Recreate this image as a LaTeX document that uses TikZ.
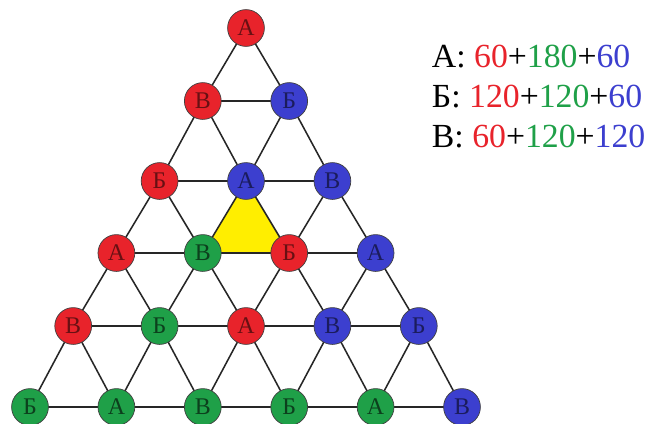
\documentclass[tikz,border=0pt]{standalone}
\usepackage{fontspec}
\setmainfont{Liberation Serif}
\usepackage{xcolor}
\usetikzlibrary{backgrounds}

\definecolor{cred}{HTML}{E8232B}
\definecolor{cblue}{HTML}{3C3FCF}
\definecolor{cgreen}{HTML}{1FA048}
\definecolor{cyellow}{HTML}{FFEE00}

\begin{document}
\begin{tikzpicture}[x=0.025cm,y=-0.025cm,
  dot/.style={circle,draw=black!75,line width=0.5pt,minimum size=0.92cm,inner sep=0pt,
              font=\fontsize{17}{17}\selectfont},
  rdot/.style={dot,fill=cred,text=cred!45!black},
  bdot/.style={dot,fill=cblue,text=cblue!45!black},
  gdot/.style={dot,fill=cgreen,text=cgreen!40!black},
  edge/.style={black!85,line width=1.1pt},
  sum/.style={anchor=base west,font=\fontsize{24}{24}\selectfont}]
  \useasboundingbox (0,0) rectangle (655,423);
  % row 0
  \node[rdot] (n00) at (246,28) {А};
  % row 1
  \node[rdot] (n10) at (202.8,101) {В};
  \node[bdot] (n11) at (289.2,101) {Б};
  % row 2
  \node[rdot] (n20) at (159.6,181) {Б};
  \node[bdot] (n21) at (246,181) {А};
  \node[bdot] (n22) at (332.4,181) {В};
  % row 3
  \node[rdot] (n30) at (116.4,253) {А};
  \node[gdot] (n31) at (202.8,253) {В};
  \node[rdot] (n32) at (289.2,253) {Б};
  \node[bdot] (n33) at (375.6,253) {А};
  % row 4
  \node[rdot] (n40) at (73.2,326) {В};
  \node[gdot] (n41) at (159.6,326) {Б};
  \node[rdot] (n42) at (246,326) {А};
  \node[bdot] (n43) at (332.4,326) {В};
  \node[bdot] (n44) at (418.8,326) {Б};
  % row 5
  \node[gdot] (n50) at (30,407) {Б};
  \node[gdot] (n51) at (116.4,407) {А};
  \node[gdot] (n52) at (202.8,407) {В};
  \node[gdot] (n53) at (289.2,407) {Б};
  \node[gdot] (n54) at (375.6,407) {А};
  \node[bdot] (n55) at (462,407) {В};

  \begin{scope}[on background layer]
    % yellow cell
    \fill[cyellow] (n21.center) -- (n31.center) -- (n32.center) -- cycle;
    % rows
    \foreach \i in {1,...,5}{
      \pgfmathtruncatemacro{\last}{\i-1}
      \foreach \j in {0,...,\last}{
        \pgfmathtruncatemacro{\k}{\j+1}
        \draw[edge] (n\i\j.center) -- (n\i\k.center);
      }
    }
    % slopes
    \foreach \i in {0,...,4}{
      \pgfmathtruncatemacro{\nx}{\i+1}
      \foreach \j in {0,...,\i}{
        \pgfmathtruncatemacro{\k}{\j+1}
        \draw[edge] (n\i\j.center) -- (n\nx\j.center);
        \draw[edge] (n\i\j.center) -- (n\nx\k.center);
      }
    }
  \end{scope}

  % sums
  \node[sum] (sa) at (427,67)  {А: \textcolor{cred}{60}+\textcolor{cgreen}{180}+\textcolor{cblue}{60}};
  \node[sum] (sb) at (427,107) {Б: \textcolor{cred}{120}+\textcolor{cgreen}{120}+\textcolor{cblue}{60}};
  \node[sum] (sv) at (427,147) {В: \textcolor{cred}{60}+\textcolor{cgreen}{120}+\textcolor{cblue}{120}};
\end{tikzpicture}
\end{document}
